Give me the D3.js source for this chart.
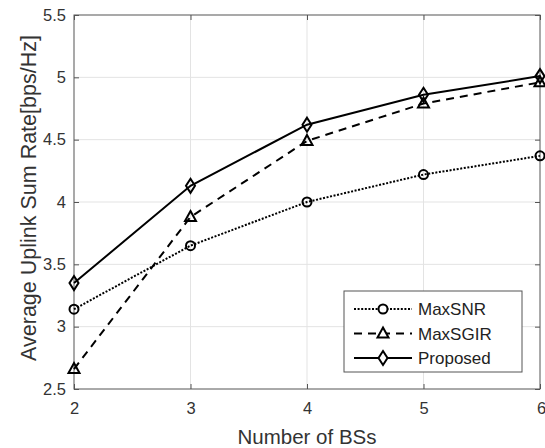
<!DOCTYPE html>
<html>
<head>
<meta charset="utf-8">
<script src="https://cdn.jsdelivr.net/npm/d3@7"></script>
<style>
  body { margin: 0; background: #fff; }
  text { font-family: "Liberation Sans", Arial, sans-serif; }
</style>
</head>
<body>
<div class="chart"></div>
<script>
let w = 545;
let h = 448;
let margin = {top: 15, right: 5, bottom: 59, left: 74};

// data
const bsCounts = [2, 3, 4, 5, 6];
const maxSNR = [3.14, 3.65, 4.00, 4.22, 4.37];
const maxSGIR = [2.66, 3.88, 4.49, 4.79, 4.96];
const proposed = [3.35, 4.13, 4.62, 4.86, 5.01];
const xTicks = [2, 3, 4, 5, 6];
const yTicks = [2.5, 3, 3.5, 4, 4.5, 5, 5.5];

const series = [
  {name: "MaxSNR", values: maxSNR, dash: "2,1.6", marker: "circle"},
  {name: "MaxSGIR", values: maxSGIR, dash: "8,6", marker: "triangle"},
  {name: "Proposed", values: proposed, dash: null, marker: "diamond"}
];

const svg = d3.select(".chart")
  .append("svg")
  .attr("width", w)
  .attr("height", h);

const xScale = d3.scaleLinear()
  .domain([2, 6])
  .range([margin.left, w - margin.right]);

const yScale = d3.scaleLinear()
  .domain([2.5, 5.5])
  .range([h - margin.bottom, margin.top]);

const axisColor = "#555";
const x0 = margin.left, x1 = w - margin.right;
const y0 = h - margin.bottom, y1 = margin.top;

// grid
svg.append("g")
  .selectAll("line.gx")
  .data(xTicks.slice(1, -1))
  .enter().append("line")
  .attr("x1", d => xScale(d)).attr("x2", d => xScale(d))
  .attr("y1", y0).attr("y2", y1)
  .attr("stroke", "#e3e3e3").attr("stroke-width", 1);

svg.append("g")
  .selectAll("line.gy")
  .data(yTicks.slice(1, -1))
  .enter().append("line")
  .attr("x1", x0).attr("x2", x1)
  .attr("y1", d => yScale(d)).attr("y2", d => yScale(d))
  .attr("stroke", "#e3e3e3").attr("stroke-width", 1);

// axes
const xAxis = d3.axisBottom(xScale).tickValues(xTicks).tickSizeInner(-5).tickSizeOuter(0).tickPadding(13)
  .tickFormat(d3.format("d"));
const yAxis = d3.axisLeft(yScale).tickValues(yTicks).tickSizeInner(-5).tickSizeOuter(0).tickPadding(8)
  .tickFormat(d3.format("~g"));

svg.append("g")
  .attr("transform", "translate(0," + y0 + ")")
  .attr("id", "x-axis")
  .call(xAxis);
svg.append("g")
  .attr("transform", "translate(" + x0 + ",0)")
  .attr("id", "y-axis")
  .call(yAxis);

// top / right ticks
svg.append("g")
  .attr("transform", "translate(0," + y1 + ")")
  .call(d3.axisTop(xScale).tickValues(xTicks).tickSizeInner(-5).tickSizeOuter(0).tickFormat(""));
svg.append("g")
  .attr("transform", "translate(" + x1 + ",0)")
  .call(d3.axisRight(yScale).tickValues(yTicks).tickSizeInner(-5).tickSizeOuter(0).tickFormat(""));

svg.selectAll(".domain").remove();
svg.selectAll(".tick line").attr("stroke", axisColor);
svg.selectAll(".tick text").attr("fill", "#333").style("font-size", "16.5px");
// keep the last x label inside the window
svg.select("#x-axis").selectAll(".tick text").filter(d => d === 6).attr("text-anchor", "end").attr("dx", "0.35em");

svg.append("rect")
  .attr("x", x0).attr("y", y1)
  .attr("width", x1 - x0).attr("height", y0 - y1)
  .attr("fill", "none").attr("stroke", axisColor).attr("stroke-width", 1);

// labels
svg.append("text")
  .attr("x", (x0 + x1) / 2).attr("y", 444)
  .attr("text-anchor", "middle")
  .attr("fill", "#333").style("font-size", "20.5px")
  .text("Number of BSs");

svg.append("text")
  .attr("transform", "translate(36," + 198 + ") rotate(-90)")
  .attr("text-anchor", "middle")
  .attr("fill", "#333").style("font-size", "21.5px")
  .text("Average Uplink Sum Rate[bps/Hz]");

// markers
function drawMarker(g, type, cx, cy) {
  if (type === "circle") {
    g.append("circle").attr("cx", cx).attr("cy", cy).attr("r", 4.5);
  } else if (type === "triangle") {
    g.append("path").attr("d", "M" + cx + "," + (cy - 6) + "L" + (cx + 5.5) + "," + (cy + 4) + "L" + (cx - 5.5) + "," + (cy + 4) + "Z");
  } else {
    g.append("path").attr("d", "M" + cx + "," + (cy - 7) + "L" + (cx + 4.5) + "," + cy + "L" + cx + "," + (cy + 7) + "L" + (cx - 4.5) + "," + cy + "Z");
  }
}

const line = d3.line()
  .x((d, i) => xScale(bsCounts[i]))
  .y(d => yScale(d));

const plot = svg.append("g");
series.forEach(s => {
  plot.append("path")
    .datum(s.values)
    .attr("d", line)
    .attr("fill", "none")
    .attr("stroke", "#000")
    .attr("stroke-width", 2)
    .attr("stroke-dasharray", s.dash);
  const mg = plot.append("g").attr("fill", "none").attr("stroke", "#000").attr("stroke-width", 2);
  s.values.forEach((v, i) => drawMarker(mg, s.marker, xScale(bsCounts[i]), yScale(v)));
});

// legend
const lg = svg.append("g").attr("transform", "translate(344,291)");
lg.append("rect")
  .attr("width", 178).attr("height", 81)
  .attr("fill", "#fff").attr("stroke", axisColor).attr("stroke-width", 1);
series.forEach((s, i) => {
  const ly = 18 + i * 24.5;
  lg.append("line")
    .attr("x1", 10).attr("x2", 68)
    .attr("y1", ly).attr("y2", ly)
    .attr("stroke", "#000").attr("stroke-width", 2)
    .attr("stroke-dasharray", s.dash);
  const mg = lg.append("g").attr("fill", "#fff").attr("stroke", "#000").attr("stroke-width", 2);
  drawMarker(mg, s.marker, 39, ly);
  lg.append("text")
    .attr("x", 74).attr("y", ly + 6)
    .attr("fill", "#222").style("font-size", "17px")
    .text(s.name);
});
</script>
</body>
</html>
